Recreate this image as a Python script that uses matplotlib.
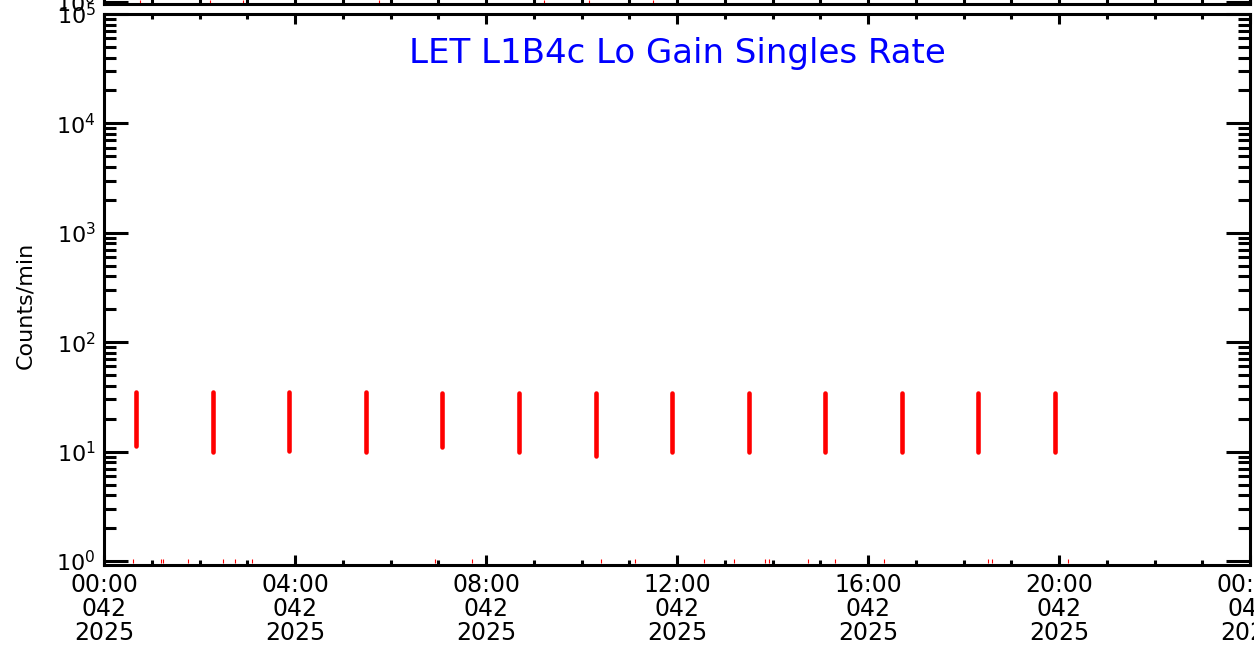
import matplotlib
matplotlib.use("Agg")
import matplotlib.pyplot as plt
from matplotlib.ticker import FixedLocator, LogLocator, NullFormatter

# burst start (minutes after 00:00 on day 042), low and high counts/min
burst_min = [40, 137, 232, 329, 425, 521, 618, 714, 810, 906, 1003, 1098, 1195]
burst_lo = [11.2, 10.0, 10.2, 10.0, 11.0, 10.0, 9.2, 10.0, 10.0, 10.0, 10.0, 10.0, 10.0]
burst_hi = [35, 35, 35, 35, 34, 34, 34, 34, 34, 34, 34, 34, 34]

# isolated low points sitting near 1 count/min
low_min = [37, 71, 74, 106, 150, 165, 186, 416, 463, 625, 667, 754, 792, 831, 835, 884, 918, 980, 1111, 1116, 1211]
low_val = [1.0] * len(low_min)

# stray points of the panel above (only its bottom edge is visible)
top_min = [45, 133, 175, 345, 553, 610, 690]

hour_ticks = [0, 4, 8, 12, 16, 20, 24]
hour_labels = ["00:00\n042\n2025", "04:00\n042\n2025", "08:00\n042\n2025",
               "12:00\n042\n2025", "16:00\n042\n2025", "20:00\n042\n2025",
               "00:00\n043\n2025"]

plt.rcParams["font.family"] = ["DejaVu Sans"]

fig = plt.figure(figsize=(12.54, 6.45), dpi=100)
left, width = 104 / 1254, 1146 / 1254
ax = fig.add_axes([left, 1 - 565 / 645, width, 551 / 645])
ax_top = fig.add_axes([left, 1 - 4 / 645, width, 0.5])


def style(a):
    a.set_yscale("log")
    a.set_ylim(0.92, 1e5)
    a.set_xlim(0, 24)
    for s in a.spines.values():
        s.set_linewidth(2.2)
    a.xaxis.set_major_locator(FixedLocator(hour_ticks))
    a.xaxis.set_minor_locator(FixedLocator(range(25)))
    a.yaxis.set_major_locator(LogLocator(base=10, numticks=10))
    a.yaxis.set_minor_locator(LogLocator(base=10, subs=range(2, 10), numticks=20))
    a.yaxis.set_minor_formatter(NullFormatter())
    a.tick_params(which="both", direction="in", top=True, right=True, width=2.2, color="black")
    a.tick_params(axis="y", which="major", length=17, labelsize=16)
    a.tick_params(axis="y", which="minor", length=8.5)
    a.tick_params(axis="x", which="major", length=7, labelsize=17)
    a.tick_params(axis="x", which="minor", length=3.5)
    a.tick_params(axis="both", pad=6)


style(ax)
style(ax_top)

ax.set_xticklabels(hour_labels, linespacing=1.0)
ax.set_yticks([1, 10, 100, 1000, 1e4, 1e5])
ax.set_yticklabels([r"$10^{0}$", r"$10^{1}$", r"$10^{2}$", r"$10^{3}$", r"$10^{4}$", r"$10^{5}$"])
ax_top.set_xticklabels([])
ax_top.set_yticks([1, 10, 100, 1000, 1e4, 1e5])
ax_top.set_yticklabels([r"$10^{0}$", "", "", "", "", ""])

bx = [m / 60 for m in burst_min]
ax.vlines(bx, burst_lo, burst_hi, color="red", linewidth=3.3, capstyle="round")
ax.plot([m / 60 for m in low_min], low_val, "|", color="red", markersize=2.5, markeredgewidth=0.8)
ax_top.plot([m / 60 for m in top_min], [1.0] * len(top_min), "|", color="red",
            markersize=3, markeredgewidth=0.8)

ax.set_ylabel("Counts/min", fontsize=16)
ax.yaxis.set_label_coords(-0.060, 0.472)
ax.text(0.5, 0.929, "LET L1B4c Lo Gain Singles Rate", transform=ax.transAxes,
        ha="center", va="center", color="blue", fontsize=24.5)

fig.savefig("out.png", dpi=100)
